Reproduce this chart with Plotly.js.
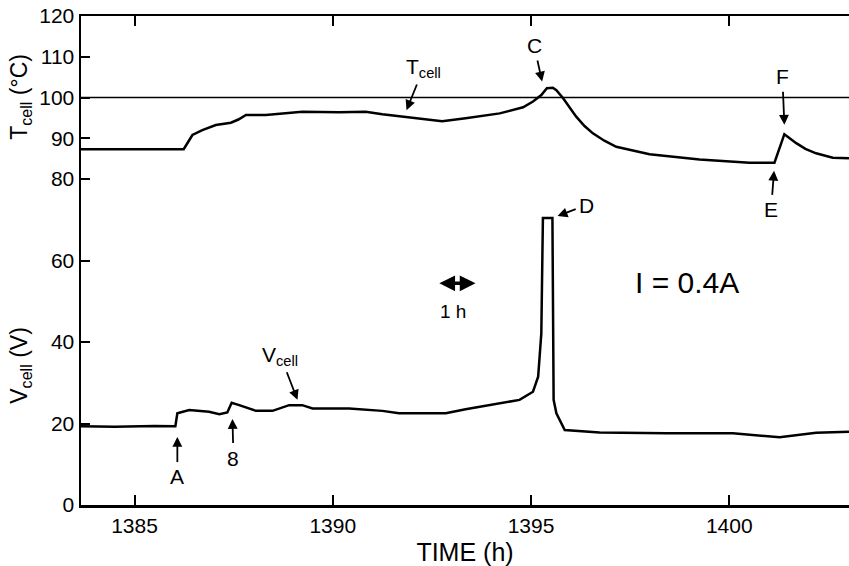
<!DOCTYPE html>
<html>
<head>
<meta charset="utf-8">
<script src="https://cdn.plot.ly/plotly-3.0.1.min.js"></script>
<style>html,body{margin:0;padding:0;background:#fff;}#chart{width:849px;height:566px;}</style>
</head>
<body>
<div id="chart"></div>
<script>
// Cell temperature (°C) vs time (h)
const tT = [1383.65, 1386.24, 1386.46, 1386.71, 1387.05, 1387.43, 1387.62, 1387.81, 1388.31, 1389.23, 1390.16, 1390.83, 1391.25, 1391.84, 1392.26, 1392.76, 1393.35, 1394.21, 1394.80, 1395.05, 1395.26, 1395.40, 1395.55, 1395.64, 1395.81, 1396.14, 1396.35, 1396.56, 1396.85, 1397.15, 1397.99, 1399.25, 1400.51, 1401.14, 1401.39, 1401.69, 1401.92, 1402.19, 1402.61, 1403.02];
const T  = [87.3, 87.3, 90.8, 92.0, 93.25, 93.8, 94.6, 95.7, 95.7, 96.5, 96.4, 96.5, 95.9, 95.3, 94.7, 94.2, 94.9, 96.1, 97.6, 99.0, 100.6, 102.3, 102.4, 101.8, 99.8, 95.3, 93.0, 91.2, 89.4, 87.9, 86.1, 84.8, 84.0, 84.0, 91.0, 88.8, 87.4, 86.3, 85.2, 85.1];

// Cell voltage (V) vs time (h)
const tV = [1383.65, 1384.5, 1385.5, 1386.03, 1386.08, 1386.38, 1386.88, 1387.14, 1387.34, 1387.45, 1387.64, 1388.06, 1388.48, 1388.90, 1389.23, 1389.49, 1390.41, 1391.25, 1391.67, 1392.85, 1393.35, 1394.21, 1394.71, 1395.05, 1395.18, 1395.26, 1395.30, 1395.54, 1395.57, 1395.64, 1395.85, 1396.73, 1398.41, 1400.09, 1401.27, 1402.19, 1403.02];
const V  = [19.3, 19.2, 19.4, 19.3, 22.5, 23.3, 22.9, 22.3, 22.7, 25.1, 24.5, 23.1, 23.1, 24.5, 24.5, 23.7, 23.7, 23.1, 22.5, 22.5, 23.5, 25.0, 25.8, 27.8, 31.5, 42.1, 70.4, 70.4, 25.8, 22.5, 18.4, 17.8, 17.6, 17.6, 16.6, 17.7, 18.0];

// Axis ticks
const yTickVals = [0, 20, 40, 60, 80, 90, 100, 110, 120];
const yTickText = ['0', '20', '40', '60', '80', '90', '100', '110', '120'];
const xTickVals = [1385, 1390, 1395, 1400];
const xTickText = ['1385', '1390', '1395', '1400'];

const FONT = 'Liberation Sans, Arial, sans-serif';

const traces = [
  {x: tT, y: T, mode: 'lines', line: {color: '#000', width: 2.5}, hoverinfo: 'skip'},
  {x: tV, y: V, mode: 'lines', line: {color: '#000', width: 2.5}, hoverinfo: 'skip'}
];

function label(x, y, text, size) {
  return {x: x, y: y, xref: 'x', yref: 'y', text: text, showarrow: false,
          font: {family: FONT, size: size || 21, color: '#000'}, xanchor: 'center', yanchor: 'middle'};
}
// labelled arrow: (x, y) is the arrow tip, text sits at pixel offset (ax, ay)
function callout(x, y, ax, ay, text) {
  return {x: x, y: y, xref: 'x', yref: 'y', ax: ax, ay: ay, text: text, showarrow: true,
          arrowhead: 2, arrowsize: 1.1, arrowwidth: 1.8, arrowcolor: '#000', standoff: 0, startstandoff: 2,
          font: {family: FONT, size: 21, color: '#000'}};
}

const annotations = [
  callout(1391.86, 96.9, 17, -42, 'T<sub>cell</sub>'),
  callout(1395.28, 103.9, -8, -36, 'C'),
  callout(1401.39, 93.3, -2, -48, 'F'),
  callout(1401.13, 82.0, -3, 39, 'E'),
  callout(1395.67, 70.9, 29, -11, 'D'),
  callout(1389.11, 25.8, -17, -44, 'V<sub>cell</sub>'),
  callout(1386.08, 16.7, 0, 40, 'A'),
  callout(1387.47, 21.1, 1, 39, '8'),
  {x: 1393.60, y: 54.4, ax: 1392.65, ay: 54.4, xref: 'x', yref: 'y', axref: 'x', ayref: 'y',
   text: '', showarrow: true, arrowside: 'end+start', arrowhead: 2, arrowsize: 0.9, arrowwidth: 3.5, arrowcolor: '#000'},
  label(1393.04, 47.4, '1 h', 19),
  label(1398.94, 54.5, 'I = 0.4A', 30),
  // axis titles
  {xref: 'paper', yref: 'paper', x: -0.078, y: 0.835, text: 'T<sub>cell</sub> (°C)', textangle: -90,
   showarrow: false, font: {family: FONT, size: 23, color: '#000'}, xanchor: 'center', yanchor: 'middle'},
  {xref: 'paper', yref: 'paper', x: -0.078, y: 0.285, text: 'V<sub>cell</sub> (V)', textangle: -90,
   showarrow: false, font: {family: FONT, size: 23, color: '#000'}, xanchor: 'center', yanchor: 'middle'}
];

const layout = {
  width: 849, height: 566,
  margin: {l: 81, r: 0, t: 16, b: 61, pad: 0},
  paper_bgcolor: '#fff', plot_bgcolor: '#fff',
  showlegend: false,
  font: {family: FONT, size: 21, color: '#000'},
  xaxis: {
    range: [1383.65, 1403.02], tickvals: xTickVals, ticktext: xTickText,
    showgrid: false, zeroline: false, showline: true, linecolor: '#000', linewidth: 2.5,
    mirror: 'ticks', ticks: 'inside', ticklen: 10, tickwidth: 2, tickcolor: '#000',
    tickfont: {family: FONT, size: 21, color: '#000'},
    title: {text: 'TIME (h)', font: {family: FONT, size: 25, color: '#000'}, standoff: 10}
  },
  yaxis: {
    range: [0, 120], tickvals: yTickVals, ticktext: yTickText,
    showgrid: false, zeroline: false, showline: true, linecolor: '#000', linewidth: 2.5,
    ticks: 'inside', ticklen: 9, tickwidth: 2, tickcolor: '#000',
    tickfont: {family: FONT, size: 21, color: '#000'}
  },
  shapes: [
    {type: 'line', xref: 'paper', yref: 'y', x0: 0, x1: 1, y0: 100, y1: 100, line: {color: '#000', width: 1.5}}
  ],
  annotations: annotations
};

Plotly.newPlot('chart', traces, layout, {displayModeBar: false, staticPlot: true});
</script>
</body>
</html>
